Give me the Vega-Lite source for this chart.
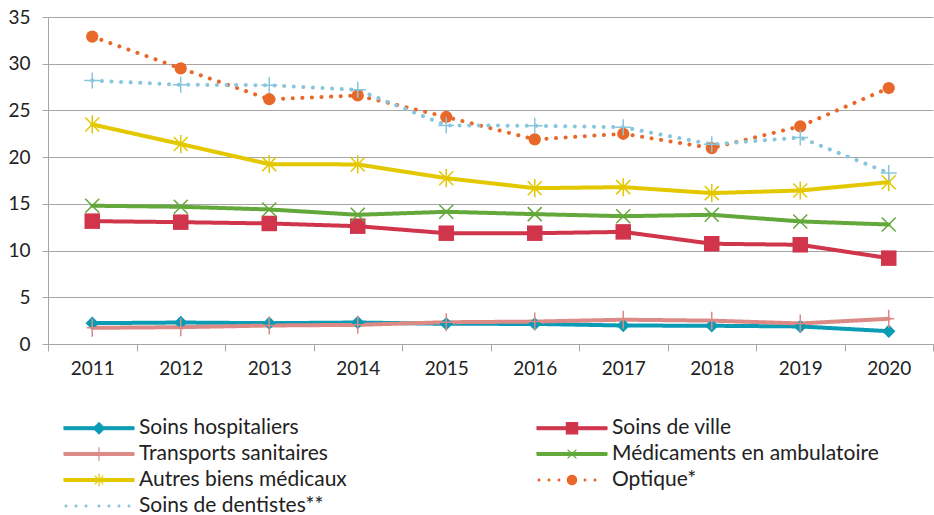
{
  "$schema": "https://vega.github.io/schema/vega-lite/v6.json",
  "width": 885,
  "height": 327,
  "autosize": {"type": "none"},
  "padding": {"left": 48, "top": 17, "right": 1, "bottom": 171},
  "background": "white",
  "config": {
    "font": "Lato",
    "view": {"stroke": null},
    "axis": {"labelFont": "Lato", "labelFontSize": 19, "labelColor": "#222222", "title": null}
  },
  "data": {"values": [
    {"year":"2011","series":"Soins hospitaliers","value":2.23},
    {"year":"2012","series":"Soins hospitaliers","value":2.3},
    {"year":"2013","series":"Soins hospitaliers","value":2.23},
    {"year":"2014","series":"Soins hospitaliers","value":2.3},
    {"year":"2015","series":"Soins hospitaliers","value":2.16},
    {"year":"2016","series":"Soins hospitaliers","value":2.15},
    {"year":"2017","series":"Soins hospitaliers","value":1.98},
    {"year":"2018","series":"Soins hospitaliers","value":1.95},
    {"year":"2019","series":"Soins hospitaliers","value":1.88},
    {"year":"2020","series":"Soins hospitaliers","value":1.37},
    {"year":"2011","series":"Soins de ville","value":13.15},
    {"year":"2012","series":"Soins de ville","value":13.04},
    {"year":"2013","series":"Soins de ville","value":12.9},
    {"year":"2014","series":"Soins de ville","value":12.61},
    {"year":"2015","series":"Soins de ville","value":11.86},
    {"year":"2016","series":"Soins de ville","value":11.86},
    {"year":"2017","series":"Soins de ville","value":12.0},
    {"year":"2018","series":"Soins de ville","value":10.73},
    {"year":"2019","series":"Soins de ville","value":10.62},
    {"year":"2020","series":"Soins de ville","value":9.19},
    {"year":"2011","series":"Transports sanitaires","value":1.73},
    {"year":"2012","series":"Transports sanitaires","value":1.8},
    {"year":"2013","series":"Transports sanitaires","value":1.98},
    {"year":"2014","series":"Transports sanitaires","value":2.05},
    {"year":"2015","series":"Transports sanitaires","value":2.33},
    {"year":"2016","series":"Transports sanitaires","value":2.4},
    {"year":"2017","series":"Transports sanitaires","value":2.6},
    {"year":"2018","series":"Transports sanitaires","value":2.5},
    {"year":"2019","series":"Transports sanitaires","value":2.2},
    {"year":"2020","series":"Transports sanitaires","value":2.7},
    {"year":"2011","series":"Médicaments en ambulatoire","value":14.8},
    {"year":"2012","series":"Médicaments en ambulatoire","value":14.69},
    {"year":"2013","series":"Médicaments en ambulatoire","value":14.4},
    {"year":"2014","series":"Médicaments en ambulatoire","value":13.83},
    {"year":"2015","series":"Médicaments en ambulatoire","value":14.15},
    {"year":"2016","series":"Médicaments en ambulatoire","value":13.9},
    {"year":"2017","series":"Médicaments en ambulatoire","value":13.68},
    {"year":"2018","series":"Médicaments en ambulatoire","value":13.83},
    {"year":"2019","series":"Médicaments en ambulatoire","value":13.12},
    {"year":"2020","series":"Médicaments en ambulatoire","value":12.79},
    {"year":"2011","series":"Autres biens médicaux","value":23.5},
    {"year":"2012","series":"Autres biens médicaux","value":21.4},
    {"year":"2013","series":"Autres biens médicaux","value":19.25},
    {"year":"2014","series":"Autres biens médicaux","value":19.22},
    {"year":"2015","series":"Autres biens médicaux","value":17.75},
    {"year":"2016","series":"Autres biens médicaux","value":16.68},
    {"year":"2017","series":"Autres biens médicaux","value":16.79},
    {"year":"2018","series":"Autres biens médicaux","value":16.15},
    {"year":"2019","series":"Autres biens médicaux","value":16.43},
    {"year":"2020","series":"Autres biens médicaux","value":17.32},
    {"year":"2011","series":"Optique*","value":32.9},
    {"year":"2012","series":"Optique*","value":29.5},
    {"year":"2013","series":"Optique*","value":26.2},
    {"year":"2014","series":"Optique*","value":26.6},
    {"year":"2015","series":"Optique*","value":24.3},
    {"year":"2016","series":"Optique*","value":21.9},
    {"year":"2017","series":"Optique*","value":22.5},
    {"year":"2018","series":"Optique*","value":20.97},
    {"year":"2019","series":"Optique*","value":23.3},
    {"year":"2020","series":"Optique*","value":27.4},
    {"year":"2011","series":"Soins de dentistes**","value":28.2},
    {"year":"2012","series":"Soins de dentistes**","value":27.75},
    {"year":"2013","series":"Soins de dentistes**","value":27.7},
    {"year":"2014","series":"Soins de dentistes**","value":27.2},
    {"year":"2015","series":"Soins de dentistes**","value":23.4},
    {"year":"2016","series":"Soins de dentistes**","value":23.36},
    {"year":"2017","series":"Soins de dentistes**","value":23.2},
    {"year":"2018","series":"Soins de dentistes**","value":21.37},
    {"year":"2019","series":"Soins de dentistes**","value":22.1},
    {"year":"2020","series":"Soins de dentistes**","value":18.3}
  ]},
  "encoding": {
    "x": {
      "field": "year", "type": "ordinal",
      "scale": {"type": "band", "paddingInner": 0, "paddingOuter": 0},
      "axis": {"labelAngle": 0, "domainColor": "#A6A6A6", "tickColor": "#A6A6A6", "tickBand": "extent", "tickSize": 7, "labelPadding": 8, "grid": false}
    },
    "y": {
      "field": "value", "type": "quantitative",
      "scale": {"domain": [0, 35], "nice": false},
      "axis": {"values": [0,5,10,15,20,25,30,35], "domainColor": "#A6A6A6", "tickColor": "#A6A6A6", "tickSize": 6, "labelPadding": 12, "grid": true, "gridColor": "#A6A6A6", "gridWidth": 1}
    },
    "color": {
      "field": "series", "type": "nominal",
      "scale": {
        "domain": ["Soins hospitaliers","Soins de ville","Transports sanitaires","Médicaments en ambulatoire","Autres biens médicaux","Optique*","Soins de dentistes**"],
        "range": ["#0A9BB5","#D0354B","#DB8A86","#63A83B","#E3C800","#E8682A","#88C6DD"]
      }
    }
  },
  "resolve": {"scale": {"shape": "independent", "size": "independent"}},
  "layer": [
    {
      "mark": {"type": "line", "strokeWidth": 4, "strokeCap": "round", "strokeJoin": "round"},
      "encoding": {
        "strokeDash": {
          "field": "series", "type": "nominal", "legend": null,
          "scale": {
            "domain": ["Soins hospitaliers","Soins de ville","Transports sanitaires","Médicaments en ambulatoire","Autres biens médicaux","Optique*","Soins de dentistes**"],
            "range": [[1,0],[1,0],[1,0],[1,0],[1,0],[0.1,9.5],[0.1,9.5]]
          }
        },
        "color": {
          "field": "series", "type": "nominal",
          "legend": {
            "title": null, "orient": "none", "legendX": 37.5, "legendY": 397.5,
            "direction": "horizontal", "columns": 2, "padding": 0,
            "rowPadding": 2, "columnPadding": 128, "gridAlign": "all",
            "symbolSize": 625, "labelOffset": 26.5, "labelFont": "Lato", "labelFontSize": 21, "labelColor": "#222222", "labelLimit": 400,
            "encode": {
              "symbols": {
                "update": {
                  "shape": {"signal": "datum.value === 'Soins hospitaliers' ? 'M-2.8,-0.12H2.8V0.12H-2.8ZM0,-0.45L0.45,0L0,0.45L-0.45,0Z' : datum.value === 'Soins de ville' ? 'M-2.8,-0.12H2.8V0.12H-2.8ZM-0.45,-0.45H0.45V0.45H-0.45Z' : datum.value === 'Transports sanitaires' ? 'M-2.8,-0.12H2.8V0.12H-2.8ZM0,-0.55V0.55' : datum.value === 'Médicaments en ambulatoire' ? 'M-2.8,-0.12H2.8V0.12H-2.8ZM-0.35,-0.35L0.35,0.35M-0.35,0.35L0.35,-0.35' : datum.value === 'Autres biens médicaux' ? 'M-2.8,-0.12H2.8V0.12H-2.8ZM-0.35,-0.35L0.35,0.35M-0.35,0.35L0.35,-0.35M0,-0.5V0.5' : datum.value === 'Optique*' ? 'M-2.76,0a0.12,0.12 0 1,0 0.24,0a0.12,0.12 0 1,0 -0.24,0M-1.96,0a0.12,0.12 0 1,0 0.24,0a0.12,0.12 0 1,0 -0.24,0M-1.16,0a0.12,0.12 0 1,0 0.24,0a0.12,0.12 0 1,0 -0.24,0M0.92,0a0.12,0.12 0 1,0 0.24,0a0.12,0.12 0 1,0 -0.24,0M1.72,0a0.12,0.12 0 1,0 0.24,0a0.12,0.12 0 1,0 -0.24,0M-0.42,0a0.42,0.42 0 1,0 0.84,0a0.42,0.42 0 1,0 -0.84,0' : 'M-2.76,0a0.12,0.12 0 1,0 0.24,0a0.12,0.12 0 1,0 -0.24,0M-1.96,0a0.12,0.12 0 1,0 0.24,0a0.12,0.12 0 1,0 -0.24,0M-1.16,0a0.12,0.12 0 1,0 0.24,0a0.12,0.12 0 1,0 -0.24,0M0.68,0a0.12,0.12 0 1,0 0.24,0a0.12,0.12 0 1,0 -0.24,0M1.48,0a0.12,0.12 0 1,0 0.24,0a0.12,0.12 0 1,0 -0.24,0M2.28,0a0.12,0.12 0 1,0 0.24,0a0.12,0.12 0 1,0 -0.24,0M-0.12,0a0.12,0.12 0 1,0 0.24,0a0.12,0.12 0 1,0 -0.24,0M-0.45,0H0.45M0,-0.55V0.55'"},
                  "fill": {"scale": "color", "field": "value"},
                  "stroke": {"scale": "color", "field": "value"},
                  "strokeWidth": {"value": 1.2},
                  "strokeDash": {"value": [1, 0]},
                  "opacity": {"value": 1}
                }
              }
            }
          }
        }
      }
    },
    {
      "transform": [{"filter": {"field": "series", "oneOf": ["Soins hospitaliers","Soins de ville","Optique*"]}}],
      "mark": {"type": "point", "filled": true, "opacity": 1},
      "encoding": {
        "shape": {"field": "series", "type": "nominal", "legend": null,
          "scale": {"domain": ["Soins hospitaliers","Soins de ville","Optique*"], "range": ["diamond","square","circle"]}},
        "size": {"field": "series", "type": "nominal", "legend": null,
          "scale": {"type": "ordinal", "domain": ["Soins hospitaliers","Soins de ville","Optique*"], "range": [180, 240, 150]}}
      }
    },
    {
      "transform": [{"filter": {"field": "series", "oneOf": ["Transports sanitaires","Médicaments en ambulatoire","Autres biens médicaux","Soins de dentistes**"]}}],
      "mark": {"type": "point", "filled": false, "opacity": 1, "strokeWidth": 1.5},
      "encoding": {
        "shape": {"field": "series", "type": "nominal", "legend": null,
          "scale": {"domain": ["Transports sanitaires","Médicaments en ambulatoire","Autres biens médicaux","Soins de dentistes**"],
            "range": ["M0,-1V1M-0.6,0H0.6","M-1,-1L1,1M-1,1L1,-1","M-1,-1L1,1M-1,1L1,-1M0,-1.3V1.3","M-1,0H1M0,-1V1"]}},
        "size": {"field": "series", "type": "nominal", "legend": null,
          "scale": {"type": "ordinal", "domain": ["Transports sanitaires","Médicaments en ambulatoire","Autres biens médicaux","Soins de dentistes**"], "range": [324, 196, 196, 256]}}
      }
    }
  ]
}
